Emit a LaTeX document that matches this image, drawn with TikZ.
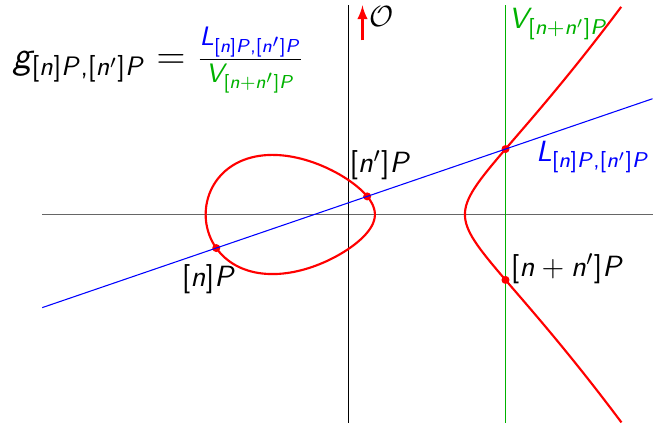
\documentclass[tikz,border=0pt,11pt]{standalone}
\usepackage{amsmath}
\usepackage{amssymb}
\usepackage{tikz}
\usetikzlibrary{positioning}
\usetikzlibrary{%
  calc,%
  arrows%
}
% sans serif math letters
\DeclareSymbolFont{operators}{OT1}{cmss}{m}{n}
\DeclareSymbolFont{letters}{OT1}{cmss}{m}{sl}
\mathcode`,="602C

\colorlet{vgreen}{green!70!black}
\tikzset{
  ecurve/.style={red,thick},
  ept/.style={circle,fill=red,inner sep=0pt,minimum size=3pt},
  lab/.style={inner sep=1pt},
}

\begin{document}
\begin{tikzpicture}[x=1cm,y=0.4526cm]
\useasboundingbox (-4.5855,-6.1192) rectangle (4.0724,6.2355);
\coordinate (xl) at (-4.03,0);
\coordinate (xr) at (4.0,0);
\coordinate (yb) at (0,-6.05);
\coordinate (yt) at (0,6.08);
\coordinate (vb) at (2.0658,-6.05);
\coordinate (vt) at (2.0658,6.08);
\coordinate (lb) at (-4.03,-2.7074);
\coordinate (lt) at (4.0,3.3649);
\coordinate (o0) at (0.184,5.06);
\coordinate (o1) at (0.184,6.08);

\draw[black!60,line width=0.6pt] (xl) -- (xr);
\draw (yb) -- (yt);

% y^2 = x^3 - 3x + 1
\draw[ecurve] plot[domain=0:360,samples=145,smooth,variable=\t]
  ({-1.8794+1.11335*(1-cos(\t))},
   {1.11335*sin(\t)*sqrt(3.4115-1.11335*(1-cos(\t)))});
\draw[ecurve] plot[domain=-1.435:1.435,samples=80,smooth,variable=\s]
  ({1.5321+\s*\s},
   {\s*sqrt((3.4115+\s*\s)*(1.1848+\s*\s))});

\draw[vgreen,line width=0.6pt] (vb) -- (vt);
\draw[red,thick,-latex] (o0) -- (o1);

\node[ept] (P) at (-1.74,-0.9757) {};
\node[ept] (Q) at (0.2460,0.5261) {};
\node[ept] (S) at (2.0658,1.9022) {};
\node[ept] (R) at (2.0658,-1.9022) {};
\draw[blue] (lb) -- (lt);

\node[lab,below=1.2mm of P,xshift=-1mm] (Plab) {$[n]P$};
\node[lab,above=1.1mm of Q,xshift=1.7mm] (Qlab) {$[n']P$};
\node[lab,right=-0.3mm of R,yshift=1.5mm,anchor=west] (Rlab) {$[n+n']P$};
\node[lab,right=3mm of S,yshift=-1mm,blue] (Slab) {$L_{[n]P,[n']P}$};
\node[lab,anchor=north west,vgreen] (Vlab) at (vt) {$V_{[n+n']P}$};
\node[lab,right=0.5mm of o1,yshift=-1.5mm] (Olab) {$\mathcal{O}$};

\node (g) at (-2.50,4.48) {\Large $g_{[n]P,[n']P}=\frac{\color{blue}L_{[n]P,[n']P}}{\color{vgreen}V_{[n+n']P}}$};
\end{tikzpicture}
\end{document}
